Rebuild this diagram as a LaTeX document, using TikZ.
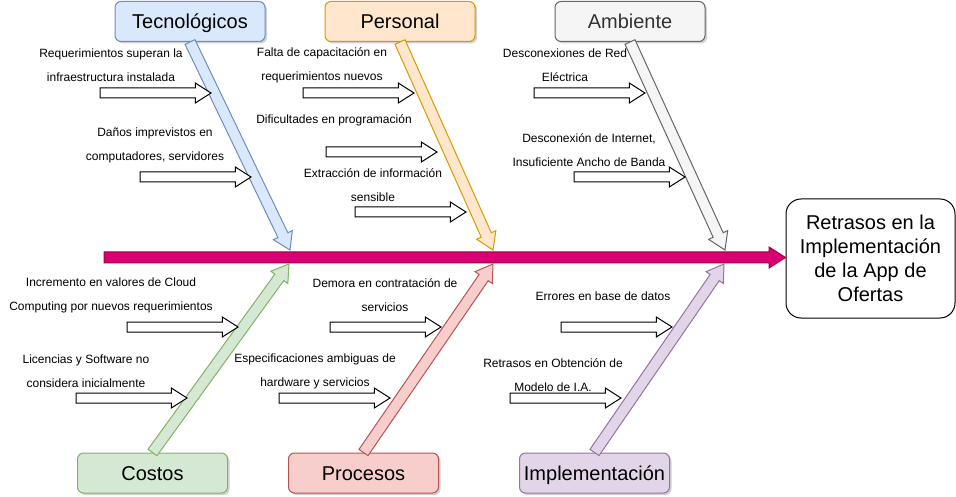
\documentclass[tikz,border=0pt]{standalone}
\usepackage{fontspec}
\setmainfont{Liberation Sans}
\usepackage{xcolor}
\usepackage{tikz}
\usetikzlibrary{shapes.arrows,shadows,calc,positioning}

\definecolor{tecF}{HTML}{DAE8FC}\definecolor{tecD}{HTML}{6C8EBF}
\definecolor{perF}{HTML}{FFE6CC}\definecolor{perD}{HTML}{D79B00}
\definecolor{ambF}{HTML}{F5F5F5}\definecolor{ambD}{HTML}{666666}
\definecolor{cosF}{HTML}{D5E8D4}\definecolor{cosD}{HTML}{82B366}
\definecolor{proF}{HTML}{F8CECC}\definecolor{proD}{HTML}{B85450}
\definecolor{impF}{HTML}{E1D5E7}\definecolor{impD}{HTML}{9673A6}
\definecolor{lomoF}{HTML}{D80073}\definecolor{lomoD}{HTML}{A50040}
\definecolor{ambT}{HTML}{333333}

\tikzset{
  categoria/.style={rectangle, rounded corners=6pt, draw, line width=1pt,
    minimum width=150pt, minimum height=40pt, inner sep=0pt,
    text height=14.5pt, text depth=0pt,
    font=\fontsize{20}{24}\selectfont,
    drop shadow={shadow xshift=2pt, shadow yshift=-2pt, fill=black, opacity=0.18}},
  efecto/.style={rectangle, rounded corners=15pt, draw, line width=1pt, fill=white,
    minimum width=169pt, minimum height=119pt, align=center, inner sep=0pt,
    font=\fontsize{20}{24}\selectfont},
  hueso/.style={single arrow, line width=1pt, inner sep=0pt, inner ysep=5pt,
    outer sep=0pt, minimum width=20pt, single arrow head extend=5pt,
    single arrow tip angle=65},
  flecha/.style={hueso, inner ysep=4.5pt, minimum width=19pt,
    draw=black, fill=white, minimum height=111pt},
  causa/.style={align=center, inner sep=0pt, font=\fontsize{12}{24}\selectfont}
}

% bone from a box to a point on the spine
\newcommand{\espina}[4]{%
  \path let \p1=($(#4)-(#3)$), \n1={atan2(\y1,\x1)}, \n2={veclen(\x1,\y1)} in
    node[hueso, #1, rotate=\n1, minimum height=\n2, anchor=tip] (#2) at (#4) {};
}

\begin{document}
\begin{tikzpicture}[x=1pt, y=-1pt]
  \useasboundingbox (0,0) rectangle (956,497);

  % Define nodes
  \node[categoria, fill=tecF, draw=tecD]                     (tec) at (190,21.5) {Tecnológicos};
  \node[categoria, fill=perF, draw=perD, right=59pt of tec]  (per) {Personal};
  \node[categoria, fill=ambF, draw=ambD, text=ambT, right=79pt of per] (amb) {Ambiente};
  \node[categoria, fill=cosF, draw=cosD]                     (cos) at (152.5,473) {Costos};
  \node[categoria, fill=proF, draw=proD, right=60pt of cos]  (pro) {Procesos};
  \node[categoria, fill=impF, draw=impD, right=80pt of pro]  (imp) {Implementación};
  \node[efecto] (efe) at (870.5,258.5) {Retrasos en la\\Implementación\\de la App de\\Ofertas};

  \coordinate (lomo) at (104,257.5);
  \coordinate (tecT) at (290,250);
  \coordinate (perT) at (493,250);
  \coordinate (ambT) at (725,250);
  \coordinate (cosT) at (289,264);
  \coordinate (proT) at (493,264);
  \coordinate (impT) at (724,264);

  % Connect the nodes
  \espina{fill=lomoF, draw=lomoD}{hLomo}{lomo}{efe.west |- lomo}
  \espina{fill=tecF, draw=tecD}{hTec}{tec.south}{tecT}
  \espina{fill=perF, draw=perD}{hPer}{per.south}{perT}
  \espina{fill=ambF, draw=ambD}{hAmb}{amb.south}{ambT}
  \espina{fill=cosF, draw=cosD}{hCos}{cos.north}{cosT}
  \espina{fill=proF, draw=proD}{hPro}{pro.north}{proT}
  \espina{fill=impF, draw=impD}{hImp}{imp.north}{impT}

  % Causes
  \node[flecha, anchor=tip] (a1)  at (211,93)  {};
  \node[flecha, anchor=tip] (a2)  at (251,177) {};
  \node[flecha, anchor=tip] (a3)  at (414,93)  {};
  \node[flecha, anchor=tip] (a4)  at (437,152) {};
  \node[flecha, anchor=tip] (a5)  at (466,212) {};
  \node[flecha, anchor=tip] (a6)  at (645,93)  {};
  \node[flecha, anchor=tip] (a7)  at (685,177) {};
  \node[flecha, anchor=tip] (a8)  at (238,327) {};
  \node[flecha, anchor=tip] (a9)  at (187,398) {};
  \node[flecha, anchor=tip] (a10) at (441,327) {};
  \node[flecha, anchor=tip] (a11) at (390,398) {};
  \node[flecha, anchor=tip] (a12) at (672,327) {};
  \node[flecha, anchor=tip] (a13) at (621,398) {};

  \node[causa] (t1)  at (111,65.5)  {Requerimientos superan la\\infraestructura instalada};
  \node[causa] (t2)  at (155,145)   {Daños imprevistos en\\computadores, servidores};
  \node[causa] (t3)  at (322,65)    {Falta de capacitación en\\requerimientos nuevos};
  \node[causa] (t4)  at (334,120)   {Dificultades en programación};
  \node[causa] (t5)  at (373,185.5) {Extracción de información\\sensible};
  \node[causa] (t6)  at (565,65)    {Desconexiones de Red\\Eléctrica};
  \node[causa] (t7)  at (589,150)   {Desconexión de Internet,\\Insuficiente Ancho de Banda};
  \node[causa] (t8)  at (111,295.5) {Incremento en valores de Cloud\\Computing por nuevos requerimientos};
  \node[causa] (t9)  at (86,371)    {Licencias y Software no\\considera inicialmente};
  \node[causa] (t10) at (385,295.5) {Demora en contratación de\\servicios};
  \node[causa] (t11) at (315,371)   {Especificaciones ambiguas de\\hardware y servicios};
  \node[causa] (t12) at (603,296)   {Errores en base de datos};
  \node[causa] (t13) at (553,375.5) {Retrasos en Obtención de\\Modelo de I.A.};

\end{tikzpicture}
\end{document}
